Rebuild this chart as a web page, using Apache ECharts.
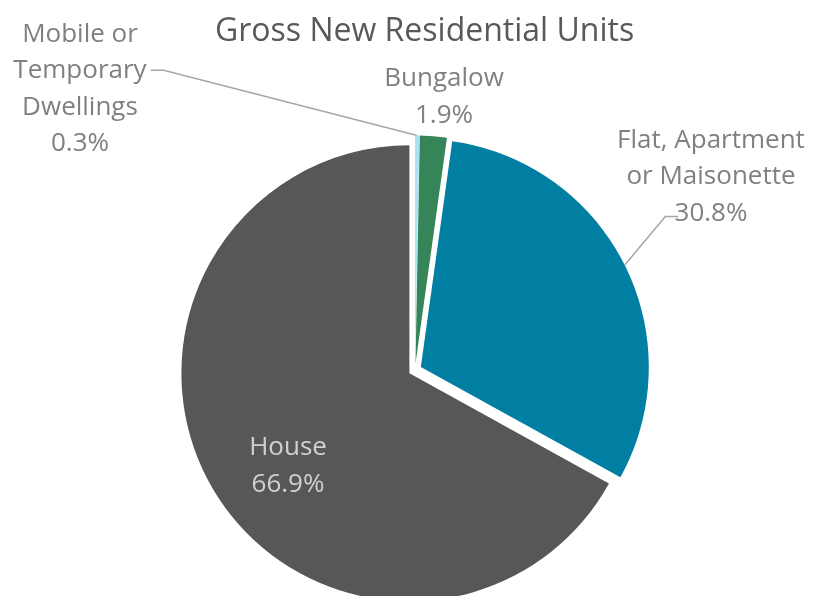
<!DOCTYPE html>
<html>
<head>
<meta charset="utf-8">
<script src="https://cdn.jsdelivr.net/npm/echarts@6/dist/echarts.min.js"></script>
<style>
  html, body { margin: 0; padding: 0; background: #ffffff; }
  #chart { width: 814px; height: 596px; }
</style>
</head>
<body>
<div id="chart"></div>
<script>
// Share of gross new residential units by dwelling type (%)
const categories = ['Mobile or\nTemporary\nDwellings', 'Bungalow', 'Flat, Apartment\nor Maisonette', 'House'];
const shares = [0.3, 1.9, 30.8, 66.9];
const sliceColors = ['#a8e2f3', '#358559', '#007fa3', '#575756'];

// Label placement: block centre and which text line the leader attaches to
const labelSpots = [
  { x: 80, y: 89, lineIdx: 1, side: 'right', line: true },
  { x: 444, y: 97, line: false },
  { x: 711, y: 177, lineIdx: 2, side: 'left', line: true },
  { x: 288, y: 466, line: false }
];
const LABEL_SIZE = 26;
const LINE_H = 36.5;
const EXPLODE = 6.5;
const FONT = '"Open Sans", "Noto Sans", sans-serif';

const chart = echarts.init(document.getElementById('chart'), null, { renderer: 'canvas' });

// exploded offset of each slice (along its bisector, clockwise from 12 o'clock)
const total = shares.reduce((a, b) => a + b, 0);
let acc = 0;
const sliceShift = shares.map(v => {
  const mid = (acc + v / 2) / total * Math.PI * 2;
  acc += v;
  return [EXPLODE * Math.sin(mid), -EXPLODE * Math.cos(mid)];
});

const data = categories.map((name, i) => ({
  name: name,
  value: shares[i],
  selected: true,
  itemStyle: { color: sliceColors[i] },
  label: i === 3
    ? { position: 'inside', color: '#d0d0d0' }
    : { position: 'outside' },
  labelLine: { show: labelSpots[i].line }
}));

const measureCtx = document.createElement('canvas').getContext('2d');

chart.setOption({
  animation: false,
  title: {
    text: 'Gross New Residential Units',
    left: 210,
    top: 11,
    textStyle: { fontFamily: FONT, fontSize: 32, fontWeight: 'normal', color: '#595959' }
  },
  series: [{
    type: 'pie',
    center: [415, 370],
    radius: 228,
    startAngle: 90,
    clockwise: true,
    selectedMode: 'multiple',
    selectedOffset: EXPLODE,
    avoidLabelOverlap: false,
    emphasis: { disabled: true },
    itemStyle: { borderWidth: 0 },
    label: {
      fontFamily: FONT,
      fontSize: LABEL_SIZE,
      lineHeight: LINE_H,
      color: '#808080',
      formatter: p => p.name + '\n' + p.value.toFixed(1) + '%'
    },
    labelLine: {
      lineStyle: { color: '#a6a6a6', width: 1.5 }
    },
    labelLayout: function (params) {
      const i = params.dataIndex;
      const spot = labelSpots[i];
      const r = params.labelRect;
      const shift = sliceShift[i];
      const anchorX = params.align === 'left' ? r.x
        : params.align === 'right' ? r.x + r.width : r.x + r.width / 2;
      const out = {
        align: 'center',
        dx: spot.x - anchorX - shift[0],
        dy: spot.y - (r.y + r.height / 2) - shift[1]
      };
      if (spot.line && params.labelLinePoints) {
        const start = params.labelLinePoints[0];
        const top = spot.y - r.height / 2;
        // leader meets the text a little below the line's middle
        const ay = top + LINE_H * (spot.lineIdx + 0.5) + 6;
        measureCtx.font = LABEL_SIZE + 'px ' + FONT;
        const lines = params.text.split('\n');
        const lw = measureCtx.measureText(lines[spot.lineIdx]).width;
        let ax, bx;
        if (spot.side === 'right') {
          ax = spot.x + lw / 2 + 4; bx = ax + 13;
        } else {
          ax = spot.x - lw / 2 - 2; bx = ax - 13;
        }
        out.labelLinePoints = [start, [bx, ay], [ax, ay]];
      }
      return out;
    },
    data: data
  }]
});
</script>
</body>
</html>
